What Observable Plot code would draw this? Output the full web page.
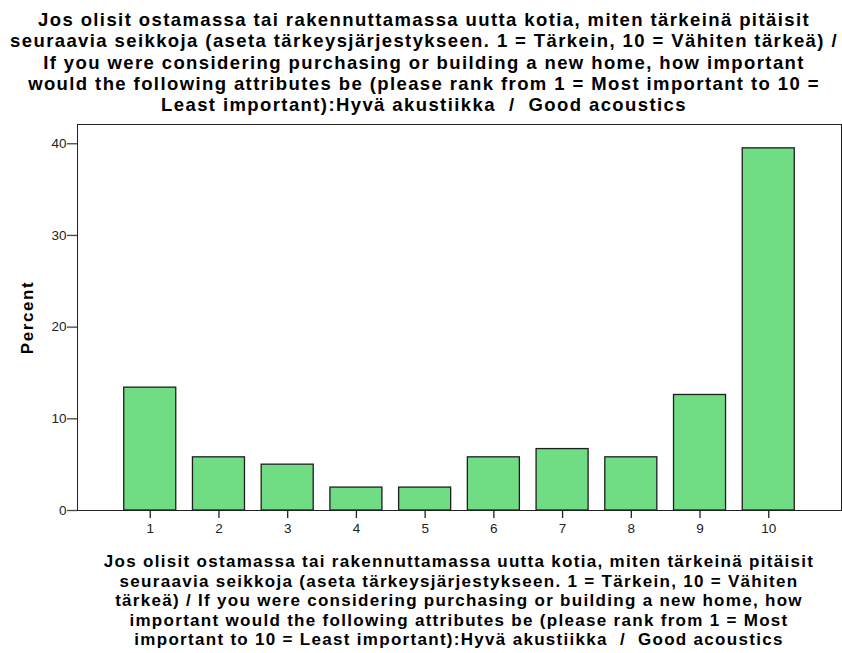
<!DOCTYPE html>
<html>
<head>
<meta charset="utf-8">
<script src="https://cdn.jsdelivr.net/npm/d3@7"></script>
<script src="https://cdn.jsdelivr.net/npm/@observablehq/plot@0.6"></script>
<style>
  html, body { margin: 0; padding: 0; background: #fff; }
  body { width: 842px; height: 653px; position: relative; overflow: hidden; font-family: "Liberation Sans", Arial, sans-serif; color: #000; }
  #title { position: absolute; left: 0; top: 9px; width: 848px; text-align: center; font-weight: bold; font-size: 18.5px; line-height: 21.25px; letter-spacing: 1.4px; white-space: pre; }
  #chart { position: absolute; left: 0; top: 120px; }
  #caption { position: absolute; left: 0; top: 552px; width: 918px; text-align: center; font-weight: bold; font-size: 17px; line-height: 19.6px; letter-spacing: 1.3px; white-space: pre; }
</style>
</head>
<body>
<div id="title"></div>
<div id="chart"></div>
<div id="caption"></div>
<script>
const ranks = ["1", "2", "3", "4", "5", "6", "7", "8", "9", "10"];
const percents = [13.4, 5.8, 5.0, 2.5, 2.5, 5.8, 6.7, 5.8, 12.6, 39.5];
const yTicks = [0, 10, 20, 30, 40];
const yLabel = "Percent";
const titleLines = [
  "Jos olisit ostamassa tai rakennuttamassa uutta kotia, miten tärkeinä pitäisit",
  "seuraavia seikkoja (aseta tärkeysjärjestykseen. 1 = Tärkein, 10 = Vähiten tärkeä) /",
  "If you were considering purchasing or building a new home, how important",
  "would the following attributes be (please rank from 1 = Most important to 10 =",
  "Least important):Hyvä akustiikka  /  Good acoustics"
];
const captionLines = [
  "Jos olisit ostamassa tai rakennuttamassa uutta kotia, miten tärkeinä pitäisit",
  "seuraavia seikkoja (aseta tärkeysjärjestykseen. 1 = Tärkein, 10 = Vähiten",
  "tärkeä) / If you were considering purchasing or building a new home, how",
  "important would the following attributes be (please rank from 1 = Most",
  "important to 10 = Least important):Hyvä akustiikka  /  Good acoustics"
];

document.getElementById("title").textContent = titleLines.join("\n");
document.getElementById("caption").textContent = captionLines.join("\n");

const data = ranks.map((r, i) => ({rank: r, pct: percents[i]}));

const chart = Plot.plot({
  width: 842,
  height: 425,
  marginLeft: 77,
  marginRight: 1,
  marginTop: 4,
  marginBottom: 35,
  style: {fontFamily: "'Liberation Sans', Arial, sans-serif", fontSize: "13.5px", color: "#222", background: "#fff"},
  x: {domain: ranks, paddingInner: 0.243, paddingOuter: 0.68, round: false},
  y: {domain: [0, 42.1]},
  marks: [
    Plot.barY(data, {x: "rank", y: "pct", fill: "#70dc84", stroke: "#1e1e1e", strokeWidth: 1.3}),
    Plot.frame({stroke: "#222", strokeWidth: 1}),
    Plot.axisX({ticks: ranks, tickSize: 8, tickPadding: 5, label: null, stroke: "#222", strokeWidth: 1.3, fill: "#222"}),
    Plot.axisY({ticks: yTicks, tickSize: 10, tickPadding: 1, label: null, stroke: "#444", strokeWidth: 1.3, fill: "#222"}),
    Plot.text([yLabel], {frameAnchor: "left", textAnchor: "middle", dx: -50, rotate: -90, fontSize: 17, fontWeight: "bold", fill: "#000"})
  ]
});
d3.select(chart).selectAll("text").filter(function() { return this.textContent === yLabel; }).style("letter-spacing", "1.6px");
document.getElementById("chart").appendChild(chart);
</script>
</body>
</html>
